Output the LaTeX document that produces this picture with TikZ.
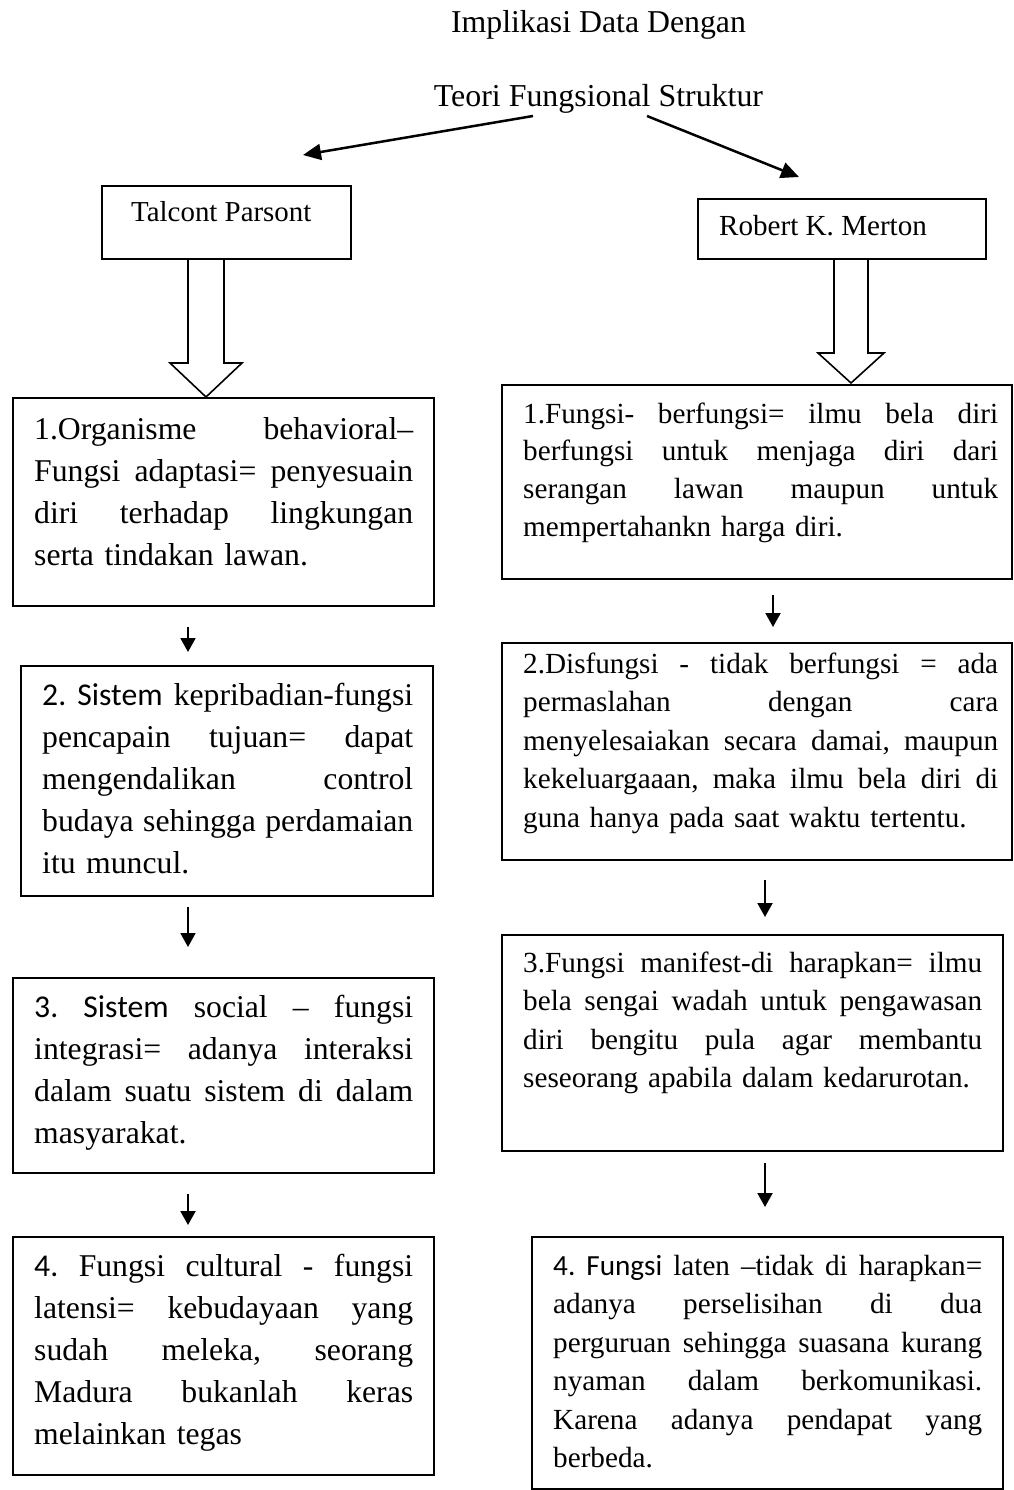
\documentclass[tikz,border=0pt]{standalone}
\usepackage{fontspec}
\setmainfont{Liberation Serif}
\newfontfamily\calib{Carlito}
\usetikzlibrary{arrows.meta,calc}
\newcommand\jl[1]{\leavevmode\hbox to \jw{\spaceskip=0.25em plus 1fil\relax\xspaceskip=\spaceskip #1}\\}
\newcommand\bxnode[5]{\node[bx,minimum width={#4-#2},minimum height={#5-#3}] (#1) at ({(#2+#4)/2},{(#3+#5)/2}) {};}
\begin{document}
\frenchspacing
\begin{tikzpicture}[x=1pt,y=-1pt,
  bx/.style={draw,line width=2pt,inner sep=0pt,outer sep=0pt},
  lbl/.style={inner sep=0pt,anchor=base},
  tL/.style={inner sep=0pt,anchor=base west,align=left,font=\fontsize{31.7}{42}\selectfont},
  tR/.style={inner sep=0pt,anchor=base west,align=left,font=\fontsize{29.2}{38.5}\selectfont},
  arr/.style={line width=2pt,-{Triangle[length=14pt,width=15pt]}},
  darr/.style={line width=2.5pt,-{Triangle[length=18pt,width=16pt]}},
  hollow/.style={draw,line width=1.6pt,fill=white,line join=miter}]
\useasboundingbox (0,0) rectangle (1013,1490);
\fill[white] (0,0) rectangle (1013,1490);

% titles
\node[lbl,font=\fontsize{31.8}{36}\selectfont] (impl) at (598.5,33) {Implikasi Data Dengan};
\node[lbl,font=\fontsize{31.9}{36}\selectfont] (teori) at (598.5,107) {Teori Fungsional Struktur};

% boxes
\bxnode{TP}{102}{186}{351}{259}
\bxnode{RM}{698}{199}{986}{259}
\bxnode{L1}{13}{398}{434}{606}
\bxnode{L2}{21}{666}{433}{896}
\bxnode{L3}{13}{978}{434}{1173}
\bxnode{L4}{13}{1237}{434}{1475}
\bxnode{R1}{502}{385}{1012}{579}
\bxnode{R2}{502}{643}{1012}{860}
\bxnode{R3}{502}{935}{1003}{1151}
\bxnode{R4}{532}{1237}{1003}{1489}

% box labels
\node[inner sep=0pt,anchor=base west,font=\fontsize{28.9}{34}\selectfont] (TPt) at (131,222) {Talcont Parsont};
\node[inner sep=0pt,anchor=base west,font=\fontsize{29.1}{34}\selectfont] (RMt) at (719,235) {Robert K. Merton};

% diagonal arrows
\coordinate (tl) at (533,116);
\coordinate (tlend) at (303,155);
\coordinate (tr) at (647,116);
\coordinate (trend) at (799,177);
\draw[darr] (tl) -- (tlend);
\draw[darr] (tr) -- (trend);

% hollow block arrows
\draw[hollow] (188,259) -- (188,363) -- (170,363) -- (206,397) -- (242,363) -- (224,363) -- (224,259) -- cycle;
\draw[hollow] (834,259) -- (834,353) -- (818,353) -- (851,383) -- (884,353) -- (868,353) -- (868,259) -- cycle;

% left column texts
\node[tL,text width=379pt] (L1t) at (34,439) {\def\jw{379pt}%
\jl{1.Organisme behavioral–}%
\jl{Fungsi adaptasi= penyesuain}%
\jl{diri terhadap lingkungan}%
serta tindakan lawan.};
\node[tL,text width=371pt] (L2t) at (42,705) {\def\jw{371pt}%
\jl{{\calib 2. Sistem} kepribadian-fungsi}%
\jl{pencapain tujuan= dapat}%
\jl{mengendalikan control}%
\jl{budaya sehingga perdamaian}%
itu muncul.};
\node[tL,text width=379pt] (L3t) at (34,1017) {\def\jw{379pt}%
\jl{{\calib 3. Sistem} social – fungsi}%
\jl{integrasi= adanya interaksi}%
\jl{dalam suatu sistem di dalam}%
masyarakat.};
\node[tL,text width=379pt] (L4t) at (34,1276) {\def\jw{379pt}%
\jl{{\calib 4.} Fungsi cultural - fungsi}%
\jl{latensi= kebudayaan yang}%
\jl{sudah meleka, seorang}%
\jl{Madura bukanlah keras}%
melainkan tegas};

% right column texts
\node[tR,text width=475pt,font=\fontsize{29.2}{37.7}\selectfont] (R1t) at (523,423) {\def\jw{475pt}%
\jl{1.Fungsi- berfungsi= ilmu bela diri}%
\jl{berfungsi untuk menjaga diri dari}%
\jl{serangan lawan maupun untuk}%
mempertahankn harga diri.};
\node[tR,text width=475pt] (R2t) at (523,673) {\def\jw{475pt}%
\jl{2.Disfungsi - tidak berfungsi = ada}%
\jl{permaslahan dengan cara}%
\jl{menyelesaiakan secara damai, maupun}%
\jl{kekeluargaaan, maka ilmu bela diri di}%
guna hanya pada saat waktu tertentu.};
\node[tR,text width=459pt] (R3t) at (523,972) {\def\jw{459pt}%
\jl{3.Fungsi manifest-di harapkan= ilmu}%
\jl{bela sengai wadah untuk pengawasan}%
\jl{diri bengitu pula agar membantu}%
seseorang apabila dalam kedarurotan.};
\node[tR,text width=429pt] (R4t) at (553,1275) {\def\jw{429pt}%
\jl{{\calib 4. Fungsi} laten –tidak di harapkan=}%
\jl{adanya perselisihan di dua}%
\jl{perguruan sehingga suasana kurang}%
\jl{nyaman dalam berkomunikasi.}%
\jl{Karena adanya pendapat yang}%
berbeda.};

% small arrows
\coordinate (xl) at (188,0);
\coordinate (xr1) at (773,0);
\coordinate (xr) at (765,0);
\draw[arr] ($(L1.south -| xl)+(0,21)$) -- ($(L2.north -| xl)+(0,-14)$);
\draw[arr] ($(L2.south -| xl)+(0,11)$) -- ($(L3.north -| xl)+(0,-31)$);
\draw[arr] ($(L3.south -| xl)+(0,21)$) -- ($(L4.north -| xl)+(0,-12)$);
\draw[arr] ($(R1.south -| xr1)+(0,16)$) -- ($(R2.north -| xr1)+(0,-16)$);
\draw[arr] ($(R2.south -| xr)+(0,20)$) -- ($(R3.north -| xr)+(0,-18)$);
\draw[arr] ($(R3.south -| xr)+(0,12)$) -- ($(R4.north -| xr)+(0,-30)$);
\end{tikzpicture}
\end{document}
